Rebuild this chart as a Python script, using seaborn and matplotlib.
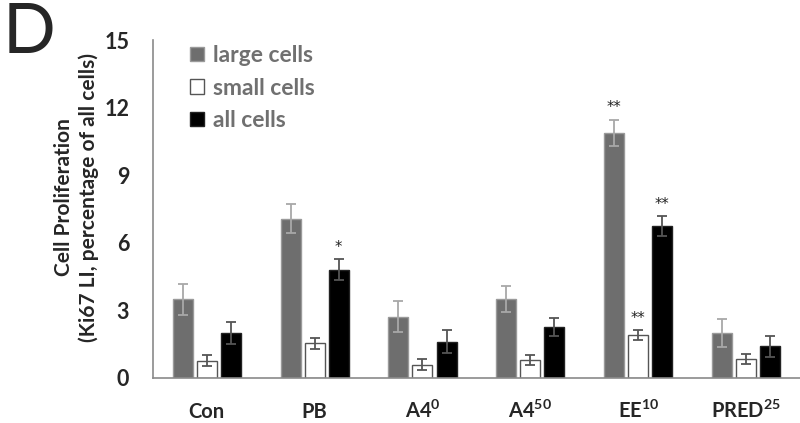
import matplotlib
matplotlib.use("Agg")
import matplotlib.pyplot as plt
import pandas as pd
import seaborn as sns

# values
groups = ["Con", "PB", "A4$^{\\mathbf{0}}$", "A4$^{\\mathbf{50}}$", "EE$^{\\mathbf{10}}$", "PRED$^{\\mathbf{25}}$"]
cell_types = ["large cells", "small cells", "all cells"]
large_mean = [3.49, 7.07, 2.72, 3.51, 10.88, 1.98]
large_err = [0.68, 0.65, 0.70, 0.56, 0.59, 0.62]
small_mean = [0.77, 1.54, 0.59, 0.81, 1.90, 0.83]
small_err = [0.25, 0.25, 0.25, 0.22, 0.22, 0.22]
all_mean = [2.00, 4.80, 1.61, 2.26, 6.73, 1.40]
all_err = [0.50, 0.46, 0.50, 0.41, 0.44, 0.45]
stars = {("large cells", 4): "**", ("small cells", 4): "**", ("all cells", 4): "**", ("all cells", 1): "*"}

means = [large_mean, small_mean, all_mean]
errs = [large_err, small_err, all_err]
df = pd.DataFrame(
    [(g, ct, means[j][i]) for j, ct in enumerate(cell_types) for i, g in enumerate(groups)],
    columns=["group", "cell", "value"],
)

sns.set_style("white")
plt.rcParams["font.family"] = ["Lato", "DejaVu Sans"]
plt.rcParams["mathtext.fontset"] = "custom"
plt.rcParams["mathtext.rm"] = "Lato"
plt.rcParams["mathtext.bf"] = "Lato:bold"

fills = ["#6e6e6e", "white", "black"]
edges = ["#9a9a9a", "#555555", "#222222"]
err_colors = ["#a8a8a8", "#555555", "#555555"]

fig = plt.figure(figsize=(8, 4.23), dpi=100)
ax = fig.add_axes([0.191, 0.1064, 0.809, 0.799])

sns.barplot(
    data=df, x="group", y="value", hue="cell", hue_order=cell_types,
    palette=fills, errorbar=None, width=0.67, gap=0.17, ax=ax, legend=False,
)

bar_conts = list(ax.containers)
for j, cont in enumerate(bar_conts):
    xs = []
    for p in cont.patches:
        p.set_edgecolor(edges[j])
        p.set_linewidth(1.0)
        xs.append(p.get_x() + p.get_width() / 2)
    ax.errorbar(xs, means[j], yerr=errs[j], fmt="none", ecolor=err_colors[j],
                elinewidth=1.3, capsize=3.5, capthick=1.3)
    for i, x in enumerate(xs):
        s = stars.get((cell_types[j], i))
        if s:
            ax.annotate(s, (x, means[j][i] + errs[j][i]), xytext=(0, 3),
                        textcoords="offset points", ha="center", va="bottom",
                        fontsize=10.5, color="#222222", family="DejaVu Sans")

ax.set_ylim(0, 15)
ax.set_xlim(-0.5, 5.5)
ax.set_yticks([0, 3, 6, 9, 12, 15])
sns.despine(ax=ax)
for side in ["left", "bottom"]:
    ax.spines[side].set_color("#8a8a8a")
    ax.spines[side].set_linewidth(1.2)
ax.tick_params(axis="y", length=5, width=1, color="#8a8a8a", pad=12, labelsize=15.5)
ax.tick_params(axis="x", length=0, pad=29, labelsize=14.5)
for lab in ax.get_xticklabels():
    lab.set_fontweight("bold")
    lab.set_va("baseline")
for lab in ax.get_yticklabels():
    lab.set_fontweight("bold")
ax.set_xlabel("")
ax.set_ylabel("Cell Proliferation\n(Ki67 LI, percentage of all cells)",
              fontsize=15, fontweight="bold", linespacing=1.3)
ax.yaxis.set_label_coords(-0.083, 0.535)

handles = [plt.Rectangle((0, 0), 1, 1, facecolor=fills[k], edgecolor=edges[k]) for k in range(3)]
leg = ax.legend(handles, cell_types, loc="upper left", bbox_to_anchor=(0.2375, 0.893),
                bbox_transform=fig.transFigure, frameon=False, fontsize=16.5,
                handlelength=0.6, handleheight=0.6, handletextpad=0.4,
                labelspacing=0.5, borderaxespad=0, borderpad=0)
for t in leg.get_texts():
    t.set_color("#707070")
    t.set_fontweight("bold")

fig.text(0.003, 1 - 53 / 423, "D", fontsize=50, va="baseline", ha="left")

fig.savefig("out.png", dpi=100)
